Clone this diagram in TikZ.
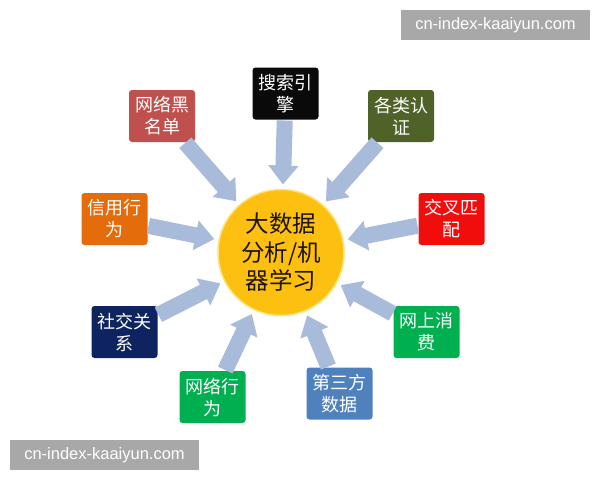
\documentclass[tikz,border=0pt]{standalone}
\usepackage{fontspec}
\setmainfont{Liberation Sans}
\newfontfamily\cjk{Noto Sans CJK SC}
\usetikzlibrary{arrows.meta}
\definecolor{arrowc}{HTML}{A9BBDA}
\definecolor{cRedbrown}{HTML}{C0504D}
\definecolor{cBlack}{HTML}{0A0A0A}
\definecolor{cOlive}{HTML}{4F6228}
\definecolor{cOrange}{HTML}{E46C0A}
\definecolor{cRed}{HTML}{F20D0D}
\definecolor{cNavy}{HTML}{0E2460}
\definecolor{cGreen}{HTML}{00B050}
\definecolor{cBlue}{HTML}{4F81BD}
\definecolor{cSun}{HTML}{FDC010}
\definecolor{cSunrim}{HTML}{FFE27A}
\definecolor{wmgray}{HTML}{A8A8A8}
\tikzset{
  srcbox/.style={rounded corners=3pt, minimum width=66pt, minimum height=52pt,
    inner sep=1pt, outer sep=0pt, text=white, align=center,
    font=\cjk\fontsize{18pt}{22pt}\selectfont},
  hub/.style={circle, minimum size=126pt, fill=cSun, draw=cSunrim, line width=1.5pt,
    outer sep=0pt, align=center, text=black!85!brown,
    font=\cjk\fontsize{23.5pt}{28.5pt}\selectfont},
  feed/.style={draw=arrowc, line width=16pt, shorten <=1pt, shorten >=5pt,
    -{Triangle[width=29pt,length=19pt]}},
  wmark/.style={fill=wmgray, text=white, minimum width=189pt, minimum height=30pt,
    inner sep=0pt, font=\fontsize{16.5pt}{18pt}\selectfont},
}
\begin{document}
\begin{tikzpicture}[x=1pt,y=-1pt]
\useasboundingbox (0,0) rectangle (600,480);
\fill[white] (0,0) rectangle (600,480);

\node[hub] (c) at (281,252.5) {大数据\\分析/机\\器学习};

\node[srcbox, fill=cRedbrown] (b1) at (162,116) {网络黑\\名单};
\node[srcbox, fill=cBlack]    (b2) at (285.5,93.5) {搜索引\\擎};
\node[srcbox, fill=cOlive]    (b3) at (401,116) {各类认\\证};
\node[srcbox, fill=cOrange]   (b4) at (114.5,219) {信用行\\为};
\node[srcbox, fill=cRed]      (b5) at (451.5,219) {交叉匹\\配};
\node[srcbox, fill=cNavy]     (b6) at (124.5,332) {社交关\\系};
\node[srcbox, fill=cGreen]    (b7) at (212.5,397) {网络行\\为};
\node[srcbox, fill=cBlue]     (b8) at (339.5,393.5) {第三方\\数据};
\node[srcbox, fill=cGreen]    (b9) at (426.5,332) {网上消\\费};

\foreach \b in {b1,b2,b3,b4,b5,b6,b7,b8,b9}
  \draw[feed] (\b) -- (c);

\node[wmark] (wm1) at (495.5,25) {cn-index-kaaiyun.com};
\node[wmark] (wm2) at (104.5,455) {cn-index-kaaiyun.com};
\end{tikzpicture}
\end{document}
